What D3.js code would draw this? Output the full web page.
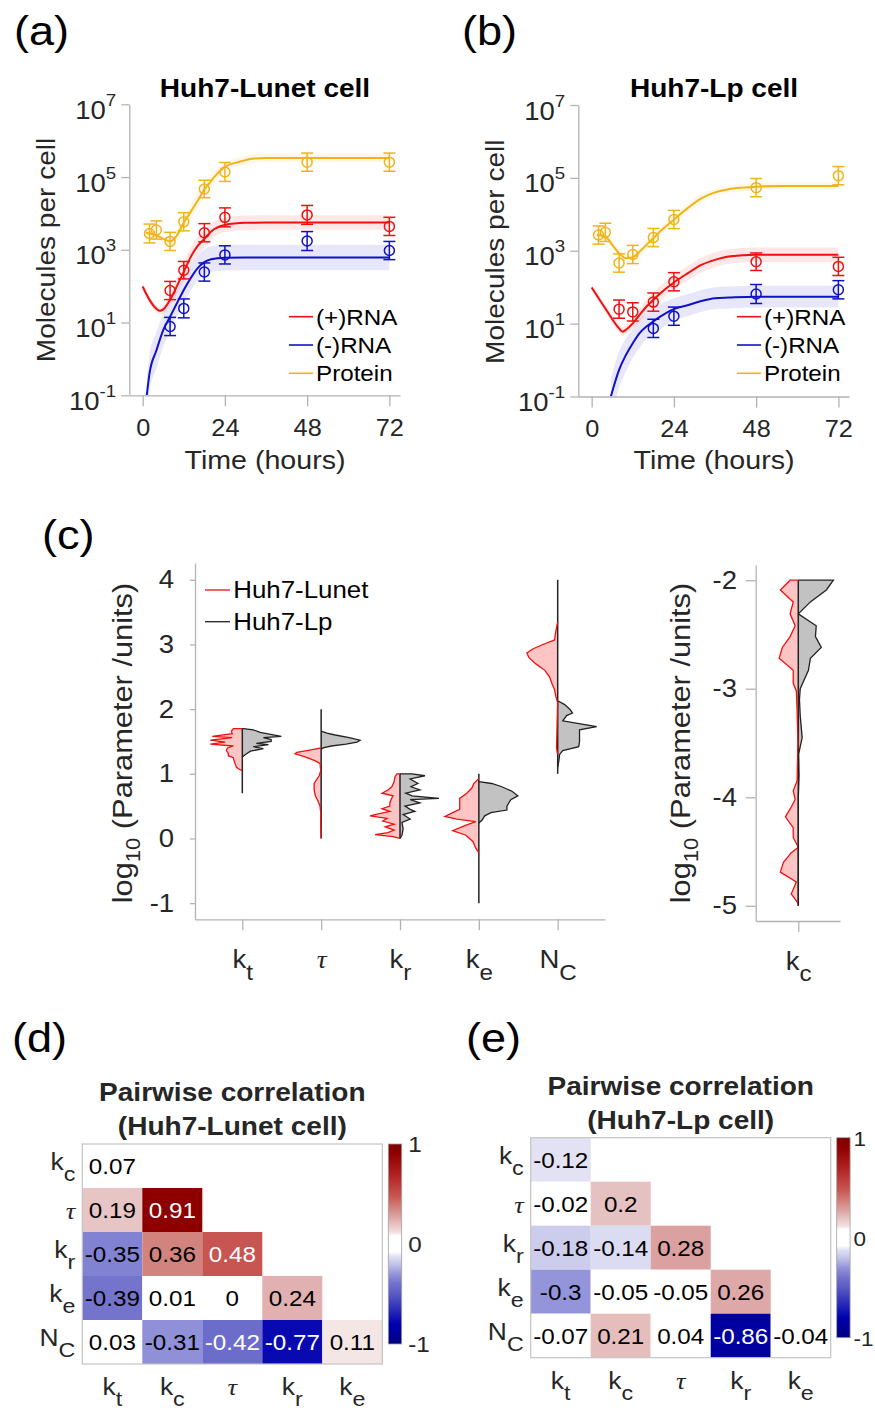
<!DOCTYPE html>
<html>
<head>
<meta charset="utf-8">
<script src="https://cdn.jsdelivr.net/npm/d3@7"></script>
<style>
  body { margin: 0; background: #fff; }
  svg { display: block; font-family: "Liberation Sans", Arial, sans-serif; }
</style>
</head>
<body>
<svg width="875" height="1410"></svg>
<script>
// ---------- (a) / (b) time courses ----------
const rnaTimes = [8, 12, 18, 24, 48, 72];
const protTimes = [2, 4, 8, 12, 18, 24, 48, 72];
const lpMinusTimes = [18, 24, 48, 72];

// Huh7-Lunet measurements (molecules per cell) and error bars (log10 half widths)
const lunetPlusObs = [76, 275, 2950, 7800, 9100, 4400];
const lunetPlusErr = [0.25, 0.24, 0.25, 0.26, 0.26, 0.25];
const lunetMinusObs = [7.8, 24.5, 245, 725, 1740, 955];
const lunetMinusErr = [0.25, 0.26, 0.25, 0.25, 0.26, 0.25];
const lunetProtObs = [2800, 3500, 1700, 5900, 47000, 138000, 257000, 257000];
const lunetProtErr = [0.26, 0.25, 0.25, 0.25, 0.24, 0.26, 0.25, 0.25];

// Huh7-Lunet model fits
const lunetPlusFitT = [0, 2, 4, 5, 6, 8, 10, 12, 14, 16, 18, 20, 24, 30, 36, 48, 72];
const lunetPlusFit = [98, 42, 24, 21, 23, 42, 100, 250, 630, 1260, 2000, 3200, 4800, 5500, 5600, 5600, 5600];
const lunetPlusSpread = [0.1, 0.1, 0.1, 0.1, 0.12, 0.15, 0.2, 0.25, 0.25, 0.25, 0.25, 0.22, 0.2, 0.2, 0.2, 0.2, 0.2];
const lunetMinusFitT = [1.2, 2, 4, 6, 8, 10, 12, 14, 16, 18, 20, 24, 30, 36, 48, 72];
const lunetMinusFit = [0.1, 0.4, 1.7, 6.2, 14.5, 34, 79, 166, 309, 457, 550, 603, 617, 617, 617, 617];
const lunetMinusSpread = [0.5, 0.5, 0.5, 0.45, 0.4, 0.35, 0.35, 0.35, 0.35, 0.35, 0.35, 0.35, 0.35, 0.35, 0.35, 0.35];
const lunetProtFitT = [1, 2, 4, 6, 8, 10, 12, 14, 16, 18, 20, 22, 24, 28, 32, 36, 48, 72];
const lunetProtFit = [3000, 2800, 2500, 2000, 1700, 2500, 5600, 11000, 22000, 45000, 79000, 130000, 190000, 260000, 320000, 335000, 335000, 335000];
const lunetProtSpread = [0.08, 0.08, 0.08, 0.1, 0.12, 0.15, 0.18, 0.2, 0.2, 0.2, 0.18, 0.15, 0.13, 0.12, 0.12, 0.12, 0.12, 0.12];

// Huh7-Lp measurements
const lpPlusObs = [25, 21, 39, 141, 500, 372];
const lpPlusErr = [0.25, 0.25, 0.25, 0.25, 0.24, 0.25];
const lpMinusObs = [7.4, 16, 65, 85];
const lpMinusErr = [0.25, 0.25, 0.26, 0.25];
const lpProtObs = [2700, 3200, 460, 790, 2300, 7200, 54000, 115000];
const lpProtErr = [0.25, 0.25, 0.25, 0.25, 0.25, 0.25, 0.25, 0.25];

// Huh7-Lp model fits
const lpPlusFitT = [0, 4, 8, 9, 10, 12, 14, 16, 18, 20, 24, 28, 32, 36, 40, 48, 72];
const lpPlusFit = [98, 26, 7.4, 6.0, 6.8, 10.2, 17.4, 29.5, 44.7, 67.6, 135, 240, 407, 562, 692, 776, 776];
const lpPlusSpread = [0.1, 0.1, 0.12, 0.12, 0.12, 0.15, 0.18, 0.2, 0.2, 0.2, 0.2, 0.2, 0.2, 0.2, 0.2, 0.2, 0.2];
const lpMinusFitT = [5.6, 8, 10, 12, 14, 16, 18, 20, 24, 28, 32, 36, 40, 48, 72];
const lpMinusFit = [0.1, 0.54, 1.38, 2.9, 5.5, 8.3, 11.5, 15.5, 25, 32, 42, 50, 52, 55, 55];
const lpMinusSpread = [0.5, 0.5, 0.45, 0.4, 0.4, 0.35, 0.35, 0.35, 0.3, 0.3, 0.3, 0.3, 0.3, 0.3, 0.3];
const lpProtFitT = [1.5, 4, 6, 8, 10, 12, 14, 16, 18, 20, 24, 28, 32, 36, 40, 44, 48, 56, 72];
const lpProtFit = [2700, 2450, 1450, 850, 620, 660, 950, 1450, 2200, 3400, 7100, 14800, 27500, 40000, 49000, 54000, 57500, 60000, 60000];
const lpProtSpread = [0.1, 0.1, 0.12, 0.12, 0.12, 0.12, 0.12, 0.12, 0.12, 0.12, 0.12, 0.12, 0.12, 0.1, 0.1, 0.1, 0.1, 0.1, 0.1];

const timeTicks = [0, 24, 48, 72];
const molTicks = [1e-1, 1e1, 1e3, 1e5, 1e7];

// ---------- (c) posterior distributions: [log10 value, relative density] ----------
const paramLabels = [["k", "t"], ["τ", ""], ["k", "r"], ["k", "e"], ["N", "C"]];
const paramPos = [1, 2, 3, 4, 5];
const paramLo = [0.7, 0, 0, -1, 1];
const paramHi = [1.7, 2, 1, 1, 4];
const paramTicks = [-1, 0, 1, 2, 3, 4];

const lunetKt = [[1.70, 0], [1.70, 0.23], [1.66, 0.28], [1.62, 0.26], [1.58, 0.77], [1.56, 0.26], [1.52, 0.82], [1.49, 0.44], [1.46, 0.82], [1.43, 0.23], [1.40, 0.38], [1.36, 0.41], [1.32, 0.36], [1.28, 0.36], [1.25, 0.23], [1.20, 0.21], [1.15, 0.18], [1.10, 0.15], [1.07, 0.08], [1.05, 0]];
const lpKt = [[1.70, 0], [1.70, 0.03], [1.68, 0.28], [1.64, 0.46], [1.58, 1.0], [1.56, 0.54], [1.53, 0.74], [1.50, 0.74], [1.47, 0.36], [1.45, 0.67], [1.42, 0.28], [1.39, 0.54], [1.35, 0.21], [1.30, 0.08], [1.26, 0]];
const lunetTau = [[1.40, 0], [1.37, 0.26], [1.33, 0.62], [1.31, 0.67], [1.28, 0.51], [1.24, 0.31], [1.20, 0.15], [1.16, 0.03], [1.05, 0.01], [0.97, 0.05], [0.90, 0.13], [0.85, 0.18], [0.75, 0.18], [0.66, 0.15], [0.58, 0.08], [0.50, 0.03], [0.40, 0.01], [0.20, 0.01], [0.0, 0]];
const lpTau = [[1.66, 0], [1.63, 0.15], [1.60, 0.36], [1.56, 0.72], [1.52, 1.0], [1.49, 0.92], [1.46, 0.64], [1.43, 0.26], [1.40, 0.05], [1.38, 0]];
const lunetKr = [[1.00, 0], [1.00, 0.08], [0.95, 0.13], [0.88, 0.15], [0.80, 0.21], [0.75, 0.31], [0.70, 0.46], [0.66, 0.18], [0.60, 0.23], [0.55, 0.26], [0.50, 0.26], [0.46, 0.46], [0.42, 0.26], [0.38, 0.56], [0.35, 0.77], [0.31, 0.33], [0.27, 0.44], [0.22, 0.15], [0.18, 0.38], [0.13, 0.15], [0.09, 0.31], [0.06, 0.64], [0.03, 0.18], [0.0, 0]];
const lpKr = [[1.00, 0], [1.00, 0.31], [0.97, 0.64], [0.92, 0.26], [0.85, 0.46], [0.80, 0.28], [0.75, 0.51], [0.70, 0.15], [0.66, 0.31], [0.62, 1.0], [0.60, 0.26], [0.55, 0.51], [0.50, 0.13], [0.45, 0.26], [0.42, 0.38], [0.37, 0.08], [0.30, 0.26], [0.25, 0.05], [0.15, 0.08], [0.05, 0.05], [0.0, 0]];
const lunetKe = [[0.93, 0], [0.85, 0.13], [0.78, 0.18], [0.70, 0.31], [0.62, 0.49], [0.55, 0.49], [0.45, 0.49], [0.40, 0.67], [0.34, 0.87], [0.30, 0.56], [0.26, 0.08], [0.20, 0.36], [0.12, 0.67], [0.05, 0.33], [-0.05, 0.15], [-0.15, 0.08], [-0.22, 0]];
const lpKe = [[0.88, 0], [0.85, 0.33], [0.80, 0.59], [0.73, 0.85], [0.66, 1.0], [0.60, 0.82], [0.50, 0.72], [0.44, 0.72], [0.40, 0.31], [0.35, 0.15], [0.28, 0.08], [0.24, 0]];
const lunetNc = [[3.35, 0], [3.20, 0.05], [3.07, 0.08], [3.00, 0.38], [2.93, 0.64], [2.87, 0.79], [2.80, 0.74], [2.70, 0.56], [2.60, 0.33], [2.50, 0.21], [2.40, 0.15], [2.30, 0.08], [2.20, 0.05], [2.10, 0], [1.40, 0.03], [1.30, 0]];
const lpNc = [[2.13, 0], [2.07, 0.18], [2.00, 0.31], [1.94, 0.38], [1.90, 0.23], [1.82, 0.13], [1.78, 0.51], [1.73, 1.0], [1.68, 0.56], [1.62, 0.56], [1.50, 0.56], [1.42, 0.54], [1.36, 0.13], [1.30, 0.05], [1.20, 0.03], [1.10, 0]];
const lunetKc = [[-2.00, 0], [-2.00, 0.21], [-2.09, 0.46], [-2.20, 0.13], [-2.31, 0.21], [-2.42, 0.08], [-2.52, 0.21], [-2.62, 0.41], [-2.72, 0.49], [-2.83, 0.13], [-2.95, 0.13], [-3.02, 0.05], [-3.2, 0.03], [-3.5, 0.01], [-3.85, 0.03], [-3.94, 0.13], [-4.02, 0.08], [-4.09, 0.18], [-4.18, 0.33], [-4.28, 0.13], [-4.37, 0.13], [-4.46, 0], [-4.51, 0.18], [-4.60, 0.38], [-4.69, 0.46], [-4.78, 0.05], [-4.89, 0.18], [-4.98, 0], [-5.0, 0]];
const lpKc = [[-2.00, 0], [-2.00, 0.90], [-2.09, 0.72], [-2.20, 0.31], [-2.31, 0], [-2.42, 0.46], [-2.52, 0.44], [-2.62, 0.59], [-2.72, 0.31], [-2.83, 0.26], [-3.00, 0.05], [-3.10, 0.03], [-3.25, 0.05], [-3.45, 0.10], [-3.6, 0.01], [-3.8, 0.02], [-4.0, 0], [-5.0, 0]];
const kcLo = -5;
const kcHi = -2;
const kcTicks = [-5, -4, -3, -2];

// ---------- (d) / (e) pairwise correlations (lower triangle) ----------
const corrRows = [["k", "c"], ["τ", ""], ["k", "r"], ["k", "e"], ["N", "C"]];
const corrCols = [["k", "t"], ["k", "c"], ["τ", ""], ["k", "r"], ["k", "e"]];
const corrLunet = [
  [0.07],
  [0.19, 0.91],
  [-0.35, 0.36, 0.48],
  [-0.39, 0.01, 0, 0.24],
  [0.03, -0.31, -0.42, -0.77, 0.11],
];
const corrLp = [
  [-0.12],
  [-0.02, 0.2],
  [-0.18, -0.14, 0.28],
  [-0.3, -0.05, -0.05, 0.26],
  [-0.07, 0.21, 0.04, -0.86, -0.04],
];

// diverging colormap of the heat maps
const cmapStops = [-1, -0.8, -0.5, -0.4, -0.3, -0.2, -0.12, -0.08, 0.08, 0.12, 0.2, 0.28, 0.36, 0.48, 0.7, 0.9, 1];
const cmapColors = ["#00007f", "#0000b0", "#5a5ac4", "#7070cc", "#9494da", "#c4c4ea", "#e2e2f4", "#ffffff", "#ffffff", "#f2dddd", "#e6c1c1", "#dba0a0", "#d3837d", "#c75652", "#b02020", "#900000", "#800000"];
const corrColor = d3.scaleLinear().domain(cmapStops).range(cmapColors).clamp(true);

const RED = "#f01010";
const BLUE = "#1010c8";
const YELLOW = "#f0b418";
const AXIS = "#b3b3b3";
const SX = 1.1; // source font runs ~10% wider than Liberation Sans

const svg = d3.select("svg");

function addText(parent, x, y, str, size, opt = {}) {
  const t = parent
    .append("text")
    .attr("transform", `translate(${x},${y})` + (opt.rotate ? ` rotate(${opt.rotate})` : "") + ` scale(${SX},1)`)
    .attr("font-size", size)
    .attr("text-anchor", opt.anchor || "start")
    .attr("font-weight", opt.bold ? "bold" : null)
    .attr("fill", opt.color || "#262626");
  if (str !== null) t.text(str);
  return t;
}

// "k" + subscript, or an italic tau
function addSymbol(t, sym, size) {
  if (sym[0] === "τ") {
    t.append("tspan")
      .attr("font-family", '"Liberation Serif", serif')
      .attr("font-style", "italic")
      .text("τ");
  } else {
    t.append("tspan").text(sym[0]);
    t.append("tspan").attr("font-size", size * 0.88).attr("dy", size * 0.45).text(sym[1]);
  }
}

function styleAxis(g, size) {
  g.attr("font-family", null).attr("font-size", size);
  g.select(".domain").attr("stroke", AXIS).attr("stroke-width", 1.3);
  g.selectAll(".tick line").attr("stroke", AXIS).attr("stroke-width", 1.3);
  g.selectAll(".tick text").attr("fill", "#262626").attr("transform", `scale(${SX},1)`);
}

// ---------- panels (a) and (b) ----------
function drawTimeCourse(id, x, y, series, legendX) {
  const g = svg.append("g");
  const [x0, x1] = x.range();
  const [yb, yt] = y.range();
  g.append("clipPath").attr("id", id)
    .append("rect").attr("x", x0).attr("y", yt).attr("width", x1 - x0).attr("height", yb - yt);
  const plot = g.append("g").attr("clip-path", `url(#${id})`);

  // ensemble of parameter samples, shown as a faint band
  series.forEach((s) => {
    const pts = s.fitT.map((t, i) => ({ t, v: s.fit[i], s: s.spread[i] }));
    plot.append("path")
      .datum(pts)
      .attr("d", d3.area()
        .x((d) => x(d.t))
        .y0((d) => y(d.v / Math.pow(10, d.s)))
        .y1((d) => y(d.v * Math.pow(10, d.s)))
        .curve(d3.curveMonotoneX))
      .attr("fill", s.color)
      .attr("opacity", 0.1);
  });

  series.forEach((s) => {
    const pts = s.fitT.map((t, i) => ({ t, v: s.fit[i] }));
    plot.append("path")
      .datum(pts)
      .attr("d", d3.line().x((d) => x(d.t)).y((d) => y(d.v)).curve(d3.curveMonotoneX))
      .attr("fill", "none")
      .attr("stroke", s.color)
      .attr("stroke-width", 2);
  });

  series.forEach((s) => {
    const pts = s.obsT.map((t, i) => ({ t, v: s.obs[i], e: s.err[i] }));
    const eb = g.append("g").attr("stroke", s.color).attr("stroke-width", 1.5).attr("fill", "none");
    pts.forEach((d) => {
      const cx = x(d.t);
      const lo = y(d.v / Math.pow(10, d.e));
      const hi = y(d.v * Math.pow(10, d.e));
      eb.append("line").attr("x1", cx).attr("x2", cx).attr("y1", lo).attr("y2", hi);
      eb.append("line").attr("x1", cx - 6).attr("x2", cx + 6).attr("y1", lo).attr("y2", lo);
      eb.append("line").attr("x1", cx - 6).attr("x2", cx + 6).attr("y1", hi).attr("y2", hi);
      eb.append("circle").attr("cx", cx).attr("cy", y(d.v)).attr("r", 5);
    });
  });

  const xAxis = g.append("g")
    .attr("transform", `translate(0,${yb})`)
    .call(d3.axisBottom(x).tickValues(timeTicks).tickSize(11).tickPadding(13).tickSizeOuter(0));
  styleAxis(xAxis, 23);

  const yAxis = g.append("g")
    .attr("transform", `translate(${x0},0)`)
    .call(d3.axisLeft(y).tickValues(molTicks).tickSize(8).tickPadding(4).tickSizeOuter(0).tickFormat(() => ""));
  styleAxis(yAxis, 25);
  yAxis.selectAll(".tick text").attr("dy", 14).each(function (d) {
    const t = d3.select(this);
    t.append("tspan").text("10");
    t.append("tspan").attr("font-size", 17).attr("dy", -13).text(Math.round(Math.log10(d)));
  });

  // legend
  series.forEach((s, i) => {
    const ly = 316.7 + 28.3 * i;
    g.append("line").attr("x1", legendX).attr("x2", legendX + 24).attr("y1", ly).attr("y2", ly)
      .attr("stroke", s.color).attr("stroke-width", 1.6);
    addText(g, legendX + 27, ly + 7.8, s.name, 22, { color: "#000" });
  });
}

const xA = d3.scaleLinear().domain([-3.9, 75.1]).range([129.3, 400]);
const yA = d3.scaleLog().domain([0.1, 1e7]).range([395.3, 104.3]);
const xB = d3.scaleLinear().domain([-3.9, 75.1]).range([578.3, 849]);
const yB = d3.scaleLog().domain([0.1, 1e7]).range([396.5, 105]);

drawTimeCourse("clipA", xA, yA, [
  { name: "(+)RNA", color: RED, obsT: rnaTimes, obs: lunetPlusObs, err: lunetPlusErr, fitT: lunetPlusFitT, fit: lunetPlusFit, spread: lunetPlusSpread },
  { name: "(-)RNA", color: BLUE, obsT: rnaTimes, obs: lunetMinusObs, err: lunetMinusErr, fitT: lunetMinusFitT, fit: lunetMinusFit, spread: lunetMinusSpread },
  { name: "Protein", color: YELLOW, obsT: protTimes, obs: lunetProtObs, err: lunetProtErr, fitT: lunetProtFitT, fit: lunetProtFit, spread: lunetProtSpread },
], 289);

drawTimeCourse("clipB", xB, yB, [
  { name: "(+)RNA", color: RED, obsT: rnaTimes, obs: lpPlusObs, err: lpPlusErr, fitT: lpPlusFitT, fit: lpPlusFit, spread: lpPlusSpread },
  { name: "(-)RNA", color: BLUE, obsT: lpMinusTimes, obs: lpMinusObs, err: lpMinusErr, fitT: lpMinusFitT, fit: lpMinusFit, spread: lpMinusSpread },
  { name: "Protein", color: YELLOW, obsT: protTimes, obs: lpProtObs, err: lpProtErr, fitT: lpProtFitT, fit: lpProtFit, spread: lpProtSpread },
], 737);

addText(svg, 265, 97, "Huh7-Lunet cell", 25.5, { anchor: "middle", bold: true, color: "#000" });
addText(svg, 714, 97, "Huh7-Lp cell", 25.5, { anchor: "middle", bold: true, color: "#000" });
addText(svg, 55, 250, "Molecules per cell", 25.5, { anchor: "middle", rotate: -90 });
addText(svg, 503.5, 251.7, "Molecules per cell", 25.5, { anchor: "middle", rotate: -90 });
addText(svg, 265, 469, "Time (hours)", 26, { anchor: "middle" });
addText(svg, 714, 469, "Time (hours)", 26, { anchor: "middle" });

// ---------- panel (c) ----------
const wScale = d3.scaleLinear().domain([0, 1]).range([0, 39]);

function drawViolin(g, x, y, pos, lo, hi, left, right) {
  const cx = x(pos);
  g.append("path").datum(left)
    .attr("d", d3.area().y((d) => y(d[0])).x0(cx).x1((d) => cx - wScale(d[1])))
    .attr("fill", "#ffc4c4");
  g.append("path").datum(right)
    .attr("d", d3.area().y((d) => y(d[0])).x0(cx).x1((d) => cx + wScale(d[1])))
    .attr("fill", "#c2c2c2");
  g.append("line").attr("x1", cx).attr("x2", cx).attr("y1", y(lo)).attr("y2", y(hi))
    .attr("stroke", "#222").attr("stroke-width", 1.5);
  g.append("path").datum(left)
    .attr("d", d3.line().y((d) => y(d[0])).x((d) => cx - wScale(d[1])))
    .attr("fill", "none").attr("stroke", RED).attr("stroke-width", 1.3);
  g.append("path").datum(right)
    .attr("d", d3.line().y((d) => y(d[0])).x((d) => cx + wScale(d[1])))
    .attr("fill", "none").attr("stroke", "#222").attr("stroke-width", 1.3);
}

function categoryAxis(g, x, yBase, pos, labels) {
  const ax = g.append("g")
    .attr("transform", `translate(0,${yBase})`)
    .call(d3.axisBottom(x).tickValues(pos).tickSize(11).tickSizeOuter(0).tickFormat(() => ""));
  styleAxis(ax, 25);
  ax.selectAll(".tick text").attr("y", 49).attr("dy", null).each(function (d, i) {
    addSymbol(d3.select(this), labels[i], 25);
  });
}

function paramYLabel(x) {
  const t = addText(svg, x, 743, null, 28, { anchor: "middle", rotate: -90 });
  t.append("tspan").text("log");
  t.append("tspan").attr("font-size", 20).attr("dy", 8).text("10");
  t.append("tspan").attr("dy", -8).text(" (Parameter /units)");
}

const xC = d3.scaleLinear().domain([0.4, 5.6]).range([195, 605]);
const yC = d3.scaleLinear().domain([-1.25, 4.26]).range([919.3, 563]);
const gC = svg.append("g");
const lunetSets = [lunetKt, lunetTau, lunetKr, lunetKe, lunetNc];
const lpSets = [lpKt, lpTau, lpKr, lpKe, lpNc];
paramPos.forEach((p, i) => drawViolin(gC, xC, yC, p, paramLo[i], paramHi[i], lunetSets[i], lpSets[i]));

const yAxisC = gC.append("g").attr("transform", "translate(195,0)")
  .call(d3.axisLeft(yC).tickValues(paramTicks).tickSize(5).tickPadding(14).tickSizeOuter(0).tickFormat((d) => String(d)));
styleAxis(yAxisC, 25);
categoryAxis(gC, xC, 919.3, paramPos, paramLabels);

gC.append("line").attr("x1", 205).attr("x2", 230).attr("y1", 590).attr("y2", 590).attr("stroke", RED).attr("stroke-width", 1.3);
addText(gC, 233.3, 598.3, "Huh7-Lunet", 23.5, { color: "#000" });
gC.append("line").attr("x1", 205).attr("x2", 230).attr("y1", 621.7).attr("y2", 621.7).attr("stroke", "#222").attr("stroke-width", 1.3);
addText(gC, 233.3, 630, "Huh7-Lp", 23.5, { color: "#000" });
paramYLabel(131.7);

const xKc = d3.scaleLinear().domain([0.461, 1.528]).range([755.7, 840]);
const yKc = d3.scaleLinear().domain([-5.14, -1.86]).range([921, 565]);
const gK = svg.append("g");
drawViolin(gK, xKc, yKc, 1, kcLo, kcHi, lunetKc, lpKc);
const yAxisK = gK.append("g").attr("transform", "translate(755.7,0)")
  .call(d3.axisLeft(yKc).tickValues(kcTicks).tickSize(10).tickPadding(7).tickSizeOuter(0).tickFormat((d) => String(d)));
styleAxis(yAxisK, 25);
categoryAxis(gK, xKc, 921, [1], [["k", "c"]]);
paramYLabel(690);

// ---------- panels (d) and (e) ----------
function drawCorr(left, top, values, subtitle) {
  const g = svg.append("g");
  const xb = d3.scaleBand().domain(d3.range(5)).range([left, left + 300]);
  const yb = d3.scaleBand().domain(d3.range(5)).range([top, top + 220]);
  const cells = values.flatMap((row, i) => row.map((v, j) => ({ i, j, v })));

  g.selectAll("rect.cell").data(cells).join("rect")
    .attr("class", "cell")
    .attr("x", (d) => xb(d.j)).attr("y", (d) => yb(d.i))
    .attr("width", xb.bandwidth()).attr("height", yb.bandwidth())
    .attr("fill", (d) => corrColor(d.v));
  g.append("rect").attr("x", left).attr("y", top).attr("width", 300).attr("height", 220)
    .attr("fill", "none").attr("stroke", "#c4c4c4").attr("stroke-width", 1.2);

  cells.forEach((d) => {
    addText(g, xb(d.j) + xb.bandwidth() / 2, yb(d.i) + yb.bandwidth() / 2 + 8, String(d.v), 22,
      { anchor: "middle", color: Math.abs(d.v) > 0.4 ? "#fff" : "#000" });
  });

  corrRows.forEach((sym, i) => {
    const t = addText(g, left - 7, yb(i) + yb.bandwidth() / 2 + (sym[1] ? 4 : 9), null, 24, { anchor: "end" });
    addSymbol(t, sym, 24);
  });
  corrCols.forEach((sym, j) => {
    const t = addText(g, xb(j) + xb.bandwidth() / 2, top + 220 + 31, null, 24, { anchor: "middle" });
    addSymbol(t, sym, 24);
  });

  // colorbar
  const gid = "grad" + Math.round(left);
  const grad = g.append("linearGradient").attr("id", gid).attr("x1", 0).attr("y1", 0).attr("x2", 0).attr("y2", 1);
  cmapStops.slice().reverse().forEach((v) => {
    grad.append("stop").attr("offset", (1 - v) / 2).attr("stop-color", corrColor(v));
  });
  const cbx = left + 306;
  g.append("rect").attr("x", cbx).attr("y", top).attr("width", 13.4).attr("height", 200)
    .attr("fill", `url(#${gid})`).attr("stroke", "#a0a0a0").attr("stroke-width", 0.8);
  const labelX = Math.min(cbx + 20, 853.5);
  const labelSize = cbx + 20 > 853.5 ? 20.5 : 22;
  [[1, "1"], [0, "0"], [-1, "-1"]].forEach(([v, s]) => {
    addText(g, labelX, top + (1 - v) * 100 + 8, s, labelSize);
  });

  addText(g, left + 150, top - 43, "Pairwise correlation", 25.5, { anchor: "middle", bold: true });
  addText(g, left + 150, top - 9, subtitle, 25.5, { anchor: "middle", bold: true });
}

drawCorr(82.3, 1144, corrLunet, "(Huh7-Lunet cell)");
drawCorr(530.7, 1137.7, corrLp, "(Huh7-Lp cell)");

// ---------- panel letters ----------
[["(a)", 14, 45], ["(b)", 462, 45], ["(c)", 42, 549], ["(d)", 12, 1052], ["(e)", 466, 1052]].forEach(([s, x, y]) => {
  addText(svg, x, y, s, 41, { color: "#000" });
});
</script>
</body>
</html>
